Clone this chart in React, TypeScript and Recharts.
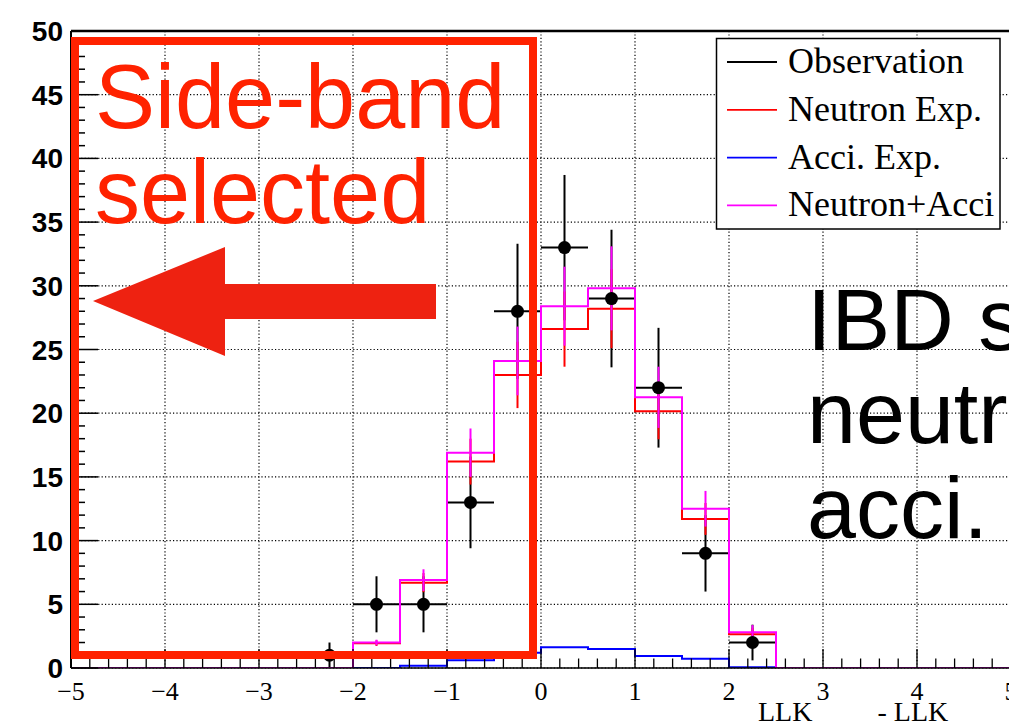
import React from 'react';
import { ComposedChart, Line, Scatter, XAxis, YAxis, CartesianGrid, ErrorBar, ReferenceLine } from 'recharts';

// ---- data ----
const binEdges = [-5, -4.5, -4, -3.5, -3, -2.5, -2, -1.5, -1, -0.5, 0, 0.5, 1, 1.5, 2, 2.5, 3, 3.5, 4, 4.5, 5];
const neutronExp = [0, 0, 0, 0, 0, 0, 1.95, 6.7, 16.2, 23.0, 26.6, 28.2, 20.15, 11.7, 2.65, 0, 0, 0, 0, 0];
const neutronExpErr = [0, 0, 0, 0, 0, 0, 0.22, 0.75, 1.8, 2.6, 2.95, 3.1, 2.2, 1.25, 0.5, 0, 0, 0, 0, 0];
const acciExp = [0, 0, 0, 0, 0, 0, 0, 0.18, 0.6, 1.2, 1.63, 1.5, 0.94, 0.72, 0.05, 0, 0, 0, 0, 0];
const neutronAcci = [0, 0, 0, 0, 0, 0, 2.0, 6.9, 16.9, 24.1, 28.4, 29.8, 21.25, 12.5, 2.8, 0, 0, 0, 0, 0];
const neutronAcciErr = [0, 0, 0, 0, 0, 0, 0.22, 0.85, 1.9, 2.7, 3.1, 3.3, 2.4, 1.4, 0.57, 0, 0, 0, 0, 0];

const obsCenters = [-2.25, -1.75, -1.25, -0.75, -0.25, 0.25, 0.75, 1.25, 1.75, 2.25];
const obsCounts = [1, 5, 5, 13, 28, 33, 29, 22, 9, 2];
const obsErr = [1, 2.2, 2.2, 3.6, 5.3, 5.7, 5.4, 4.7, 3.0, 1.4];
const obsHalfWidth = 0.25;

const xMajorTicks = [-5, -4, -3, -2, -1, 0, 1, 2, 3, 4, 5];
const yMajorTicks = [0, 5, 10, 15, 20, 25, 30, 35, 40, 45, 50];

const legendItems = [
  { label: 'Observation', color: '#000000' },
  { label: 'Neutron Exp.', color: '#ff0000' },
  { label: 'Acci. Exp.', color: '#0000ff' },
  { label: 'Neutron+Acci', color: '#ff00ff' },
];

// ---- derived tables ----
const xMinorTicks: number[] = [];
for (let i = 0; i <= 50; i++) xMinorTicks.push(Math.round((-5 + i * 0.2) * 10) / 10);
const yMinorTicks: number[] = [];
for (let i = 0; i <= 50; i++) yMinorTicks.push(i);

const stepData = (vals: number[]) =>
  binEdges.map((x, i) => ({ x, y: vals[Math.min(i, vals.length - 1)] }));
const errData = (vals: number[], errs: number[]) =>
  vals
    .map((v, i) => ({ x: (binEdges[i] + binEdges[i + 1]) / 2, y: v, e: errs[i] }))
    .filter((d) => d.y > 0);
const obsData = obsCenters.map((x, i) => ({ x, y: obsCounts[i], ey: obsErr[i], ex: obsHalfWidth }));

const isMajor = (v: number, step: number) => Math.abs(v / step - Math.round(v / step)) < 1e-6;
const fmt = (v: number) => (v < 0 ? '\u2212' + Math.abs(v) : String(v));

const XTick = (props: any) => {
  const { x, y, payload } = props;
  const v = payload.value;
  const major = isMajor(v, 1);
  return (
    <g>
      <line x1={x} x2={x} y1={y} y2={y - (major ? 19 : 9.5)} stroke="#000" strokeWidth={1.3} />
      {major && (
        <text x={x} y={y + 32} textAnchor="middle" fontSize={26} fontFamily="'Liberation Serif', 'Times New Roman', serif" fill="#000">
          {fmt(v)}
        </text>
      )}
    </g>
  );
};

const YTick = (props: any) => {
  const { x, y, payload } = props;
  const v = payload.value;
  const major = isMajor(v, 5);
  return (
    <g>
      <line x1={x} x2={x + (major ? 27 : 14)} y1={y} y2={y} stroke="#000" strokeWidth={1.5} />
      {major && (
        <text x={x - 8} y={y + 10} textAnchor="end" fontSize={28} fontWeight="bold" fontFamily="'Liberation Sans', Arial, sans-serif" fill="#000">
          {v}
        </text>
      )}
    </g>
  );
};

const emptyShape = () => <g />;
const obsShape = (p: any) => <circle cx={p.cx} cy={p.cy} r={6.5} fill="#000" />;

export default function App() {
  return (
    <div style={{ position: 'absolute', left: 0, top: 0, width: 1009, height: 721, overflow: 'hidden', background: '#fff' }}>
      <ComposedChart width={1040} height={721} margin={{ top: 31, right: 29, bottom: 0, left: 0 }}>
        <XAxis xAxisId="grid" dataKey="x" type="number" domain={[-5, 5]} ticks={xMajorTicks} hide allowDataOverflow />
        <YAxis yAxisId="grid" type="number" domain={[0, 50]} ticks={yMajorTicks} hide allowDataOverflow />
        <CartesianGrid xAxisId="grid" yAxisId="grid" stroke="#000" strokeWidth={1.2} strokeDasharray="1.2 2.2" />
        <XAxis
          dataKey="x"
          type="number"
          domain={[-5, 5]}
          ticks={xMinorTicks}
          interval={0}
          height={53}
          tickSize={0}
          tickMargin={0}
          tickLine={false}
          tick={<XTick />}
          axisLine={{ stroke: '#000', strokeWidth: 1.5 }}
          allowDataOverflow
        />
        <YAxis
          type="number"
          domain={[0, 50]}
          ticks={yMinorTicks}
          interval={0}
          width={71}
          tickSize={0}
          tickMargin={0}
          tickLine={false}
          tick={<YTick />}
          axisLine={{ stroke: '#000', strokeWidth: 2 }}
          allowDataOverflow
        />
        <ReferenceLine y={50} stroke="#000" strokeWidth={2.5} ifOverflow="visible" />

        <Scatter data={obsData} dataKey="y" shape={emptyShape} isAnimationActive={false}>
          <ErrorBar dataKey="ey" direction="y" width={0} stroke="#000" strokeWidth={2} isAnimationActive={false} />
          <ErrorBar dataKey="ex" direction="x" width={0} stroke="#000" strokeWidth={2} isAnimationActive={false} />
        </Scatter>

        <Line data={stepData(neutronExp)} dataKey="y" type="stepAfter" stroke="#ff0000" strokeWidth={2} dot={false} activeDot={false} isAnimationActive={false} />
        <Scatter data={errData(neutronExp, neutronExpErr)} dataKey="y" shape={emptyShape} isAnimationActive={false}>
          <ErrorBar dataKey="e" direction="y" width={0} stroke="#ff0000" strokeWidth={2} isAnimationActive={false} />
        </Scatter>
        <Line data={stepData(acciExp)} dataKey="y" type="stepAfter" stroke="#0000ff" strokeWidth={2} dot={false} activeDot={false} isAnimationActive={false} />
        <Line data={stepData(neutronAcci)} dataKey="y" type="stepAfter" stroke="#ff00ff" strokeWidth={2} dot={false} activeDot={false} isAnimationActive={false} />
        <Scatter data={errData(neutronAcci, neutronAcciErr)} dataKey="y" shape={emptyShape} isAnimationActive={false}>
          <ErrorBar dataKey="e" direction="y" width={0} stroke="#ff00ff" strokeWidth={2} isAnimationActive={false} />
        </Scatter>

        <Scatter data={obsData} dataKey="y" shape={obsShape} isAnimationActive={false} />
      </ComposedChart>

      <svg width={1009} height={721} style={{ position: 'absolute', left: 0, top: 0, pointerEvents: 'none' }}>
        {/* legend */}
        <rect x={716.5} y={38.5} width={283.5} height={190.5} fill="#fff" stroke="#000" strokeWidth={1.5} />
        {legendItems.map((it, i) => {
          const ly = 62 + i * 47.8;
          return (
            <g key={it.label}>
              <line x1={727} x2={777} y1={ly} y2={ly} stroke={it.color} strokeWidth={1.8} />
              <text x={788} y={ly + 11} fontSize={36} fontFamily="'Liberation Serif', 'Times New Roman', serif" fill="#000">
                {it.label}
              </text>
            </g>
          );
        })}

        {/* side-band annotation */}
        <rect x={75} y={41} width={458} height={614} fill="none" stroke="#ff2200" strokeWidth={8} />
        <text x={95} y={128} fontSize={90} fontFamily="'Liberation Sans', Arial, sans-serif" fill="#ff2200">Side-band</text>
        <text x={95} y={223} fontSize={90} fontFamily="'Liberation Sans', Arial, sans-serif" fill="#ff2200">selected</text>
        <polygon points="93,301 225,247 225,284 436,284 436,319 225,319 225,356" fill="#ee2211" />

        {/* right annotation */}
        <text x={807} y={350} fontSize={88} fontFamily="'Liberation Sans', Arial, sans-serif" fill="#000">IBD s</text>
        <text x={807} y={443} fontSize={88} fontFamily="'Liberation Sans', Arial, sans-serif" fill="#000">neutr</text>
        <text x={807} y={538} fontSize={88} fontFamily="'Liberation Sans', Arial, sans-serif" fill="#000">acci.</text>

        {/* x-axis title */}
        <text x={758} y={721} fontSize={28} fontFamily="'Liberation Serif', 'Times New Roman', serif" fill="#000">
          LLK<tspan fontSize={19} dy={13}>neutron</tspan>
          <tspan fontSize={28} dy={-13}> - LLK</tspan>
          <tspan fontSize={19} dy={13}>acci.</tspan>
        </text>
      </svg>
    </div>
  );
}
